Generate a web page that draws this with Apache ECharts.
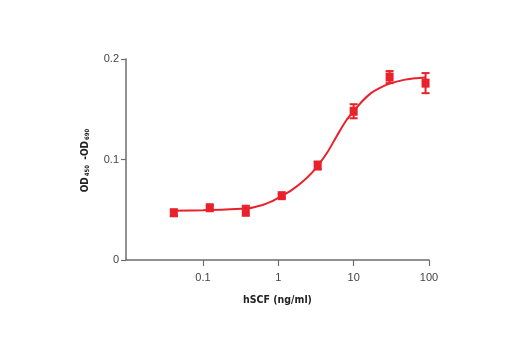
<!DOCTYPE html>
<html><head><meta charset="utf-8">
<script src="https://cdn.jsdelivr.net/npm/echarts@6/dist/echarts.min.js"></script>
<style>html,body{margin:0;padding:0;background:#fff}#c{width:520px;height:350px}</style>
</head><body><div id="c"></div>
<script>
// Concentrations (ng/ml) of the measured points
var conc = [0.041, 0.123, 0.37, 1.11, 3.33, 10, 30, 90];
// Mean OD450-OD690
var odMean = [0.047, 0.052, 0.049, 0.064, 0.094, 0.148, 0.182, 0.176];
// Error (± SD)
var odErr = [0.003, 0.002, 0.005, 0.002, 0.004, 0.007, 0.006, 0.010];
// Fitted curve
var curveX = [0.041, 0.1, 0.2, 0.4, 0.6, 0.8, 1.1, 1.5, 2, 3, 4.5, 6, 8, 10, 13, 17, 22, 30, 45, 65, 90];
var curveY = [0.0490, 0.0495, 0.0502, 0.0515, 0.0545, 0.0580, 0.0635, 0.0695, 0.0765, 0.0895, 0.1075, 0.1237, 0.1390, 0.1480, 0.1580, 0.1660, 0.1710, 0.1755, 0.1790, 0.1808, 0.1817];
// Tick labels
var xTicks = [0.1, 1, 10, 100];
var yTicks = [0, 0.1, 0.2];

var red = '#e8212b';
var axisCol = '#6e6e6e';
var condensed = '"DejaVu Sans Condensed", "Liberation Sans", sans-serif';
var pts = conc.map(function (c, i) { return [c, odMean[i]]; });
var errs = conc.map(function (c, i) { return [c, odMean[i] - odErr[i], odMean[i] + odErr[i]]; });
var curve = curveX.map(function (c, i) { return [c, curveY[i]]; });

var chart = echarts.init(document.getElementById('c'), null, {renderer: 'canvas'});
chart.setOption({
  animation: false,
  grid: {left: 126, right: 91, top: 59, bottom: 90, containLabel: false},
  xAxis: {
    type: 'log', logBase: 10, min: 0.0095, max: 100,
    name: 'hSCF (ng/ml)', nameLocation: 'middle', nameGap: 35,
    nameTextStyle: {fontFamily: condensed, fontWeight: 'bold', fontSize: 10.5, color: '#222'},
    axisLine: {lineStyle: {color: axisCol, width: 1.5}},
    axisTick: {show: true, length: 6, customValues: xTicks, lineStyle: {color: axisCol, width: 1.2}},
    axisLabel: {customValues: xTicks, margin: 12, fontFamily: 'Liberation Sans', fontSize: 11, color: '#444',
      formatter: function (v) { return String(+v.toPrecision(3)); }},
    splitLine: {show: false}, minorTick: {show: false}
  },
  yAxis: {
    type: 'value', min: 0, max: 0.2, interval: 0.1,
    name: '{a|OD}{s|450}{a| -OD}{s|690}', nameLocation: 'middle', nameGap: 36, nameRotate: 90,
    nameTextStyle: {
      rich: {
        a: {fontFamily: condensed, fontWeight: 'bold', fontSize: 10, color: '#222', lineHeight: 15, verticalAlign: 'bottom'},
        s: {fontFamily: condensed, fontWeight: 'bold', fontSize: 6, color: '#222', lineHeight: 13, verticalAlign: 'bottom', padding: [0, 2, 0, 1]}
      }
    },
    axisLine: {show: true, lineStyle: {color: axisCol, width: 1.5}},
    axisTick: {show: true, length: 5, lineStyle: {color: axisCol, width: 1.2}},
    axisLabel: {margin: 7, fontFamily: 'Liberation Sans', fontSize: 11, color: '#444',
      formatter: function (v) { return String(+v.toFixed(2)); }},
    splitLine: {show: false}
  },
  series: [
    {
      type: 'line', data: curve, smooth: 0.3, showSymbol: false, symbol: 'none',
      lineStyle: {color: red, width: 2}, z: 2
    },
    {
      type: 'custom', data: errs, z: 3,
      renderItem: function (params, api) {
        var x = api.value(0);
        var lo = api.coord([x, api.value(1)]);
        var hi = api.coord([x, api.value(2)]);
        var w = 4;
        var st = {stroke: red, lineWidth: 2};
        return {type: 'group', children: [
          {type: 'line', shape: {x1: lo[0], y1: lo[1], x2: hi[0], y2: hi[1]}, style: st},
          {type: 'line', shape: {x1: lo[0] - w, y1: lo[1], x2: lo[0] + w, y2: lo[1]}, style: st},
          {type: 'line', shape: {x1: hi[0] - w, y1: hi[1], x2: hi[0] + w, y2: hi[1]}, style: st}
        ]};
      }
    },
    {
      type: 'scatter', data: pts, symbol: 'rect', symbolSize: [8, 9],
      itemStyle: {color: red, opacity: 1}, z: 4
    }
  ]
});
</script></body></html>
